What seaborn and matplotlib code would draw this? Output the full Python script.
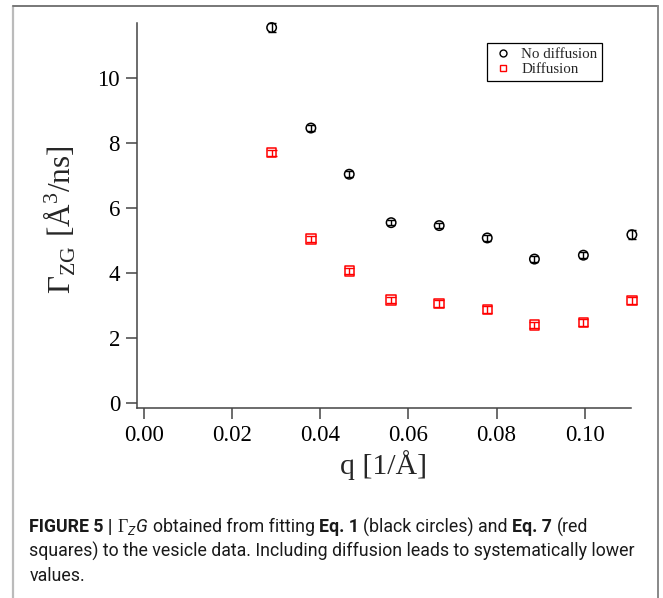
import matplotlib
matplotlib.use("Agg")
import matplotlib.pyplot as plt
import seaborn as sns
from matplotlib.lines import Line2D

# ---- data ----
q = [0.0290, 0.0379, 0.0466, 0.0561, 0.0670, 0.0779, 0.0886, 0.0997, 0.1107]
gamma_nodiff = [11.54, 8.45, 7.03, 5.54, 5.45, 5.07, 4.42, 4.54, 5.17]
err_nodiff = [0.13, 0.10, 0.10, 0.08, 0.08, 0.09, 0.09, 0.09, 0.14]
gamma_diff = [7.69, 5.04, 4.06, 3.16, 3.06, 2.87, 2.39, 2.47, 3.15]
err_diff = [0.10, 0.10, 0.10, 0.10, 0.10, 0.10, 0.10, 0.10, 0.10]
series_labels = ["No diffusion", "Diffusion"]
xticks = [0.00, 0.02, 0.04, 0.06, 0.08, 0.10]
xticklabels = ["0.00", "0.02", "0.04", "0.06", "0.08", "0.10"]
yticks = [0, 2, 4, 6, 8, 10]
xlabel = "q [1/Å]"
ylabel = r"$\Gamma_{\mathrm{ZG}}\ [\mathrm{Å}^{3}/\mathrm{ns}]$"

sns.set_theme(style="ticks")
plt.rcParams['font.family'] = ['Liberation Serif', 'DejaVu Serif']
plt.rcParams['mathtext.fontset'] = 'custom'
plt.rcParams['mathtext.rm'] = 'Liberation Serif'
plt.rcParams['mathtext.it'] = 'Roboto:italic'
plt.rcParams['mathtext.bf'] = 'Liberation Serif:bold'

W, H = 663, 598
fig = plt.figure(figsize=(W / 100, H / 100), dpi=100)
fig.patch.set_facecolor('white')

ax_l, ax_r, ax_t, ax_b = 136.7, 631.0, 22.7, 408.0
ax = fig.add_axes([ax_l / W, 1 - ax_b / H, (ax_r - ax_l) / W, (ax_b - ax_t) / H])
ax.set_facecolor('white')

# error bars
ax.errorbar(q, gamma_nodiff, yerr=err_nodiff, fmt='none', ecolor='black',
            elinewidth=1.0, capsize=3.2, capthick=1.0, clip_on=False, zorder=2)
ax.errorbar(q, gamma_diff, yerr=err_diff, fmt='none', ecolor='red',
            elinewidth=1.0, capsize=3.4, capthick=1.0, clip_on=False, zorder=2)

# markers
sns.scatterplot(x=q, y=gamma_nodiff, marker='o', s=6.8 ** 2, facecolors='none',
                edgecolor='black', linewidth=1.1, ax=ax, clip_on=False, zorder=3)
sns.scatterplot(x=q, y=gamma_diff, marker='s', s=6.8 ** 2, facecolors='none',
                edgecolor='red', linewidth=1.1, ax=ax, clip_on=False, zorder=3)

ax.set_xlim(-0.0016, 0.1105)
ax.set_ylim(-0.16, 11.69)
ax.set_xticks(xticks)
ax.set_xticklabels(xticklabels)
ax.set_yticks(yticks)

for s in ['top', 'right']:
    ax.spines[s].set_visible(False)
for s in ['left', 'bottom']:
    ax.spines[s].set_color('#444444')
    ax.spines[s].set_linewidth(1.1)
ax.tick_params(axis='both', direction='out', length=8, width=1.1, color='#444444',
               labelcolor='black', labelsize=16.5)
ax.tick_params(axis='y', pad=4)
ax.tick_params(axis='x', pad=4)

ax.set_xlabel(xlabel, fontsize=21.5, labelpad=3)
ax.set_ylabel(ylabel, fontsize=22.5)
ax.yaxis.set_label_coords((78 - ax_l) / (ax_r - ax_l), 0.49)

# legend
handles = [
    Line2D([], [], marker='o', linestyle='none', markerfacecolor='none',
           markeredgecolor='black', markersize=5, markeredgewidth=1.0),
    Line2D([], [], marker='s', linestyle='none', markerfacecolor='none',
           markeredgecolor='red', markersize=5, markeredgewidth=1.0),
]
leg = ax.legend(handles, series_labels, loc='upper right',
                bbox_to_anchor=(602 / W, 1 - 43 / H), bbox_transform=fig.transFigure,
                fontsize=10.8, frameon=True, fancybox=False, framealpha=1,
                edgecolor='black', borderpad=0.3, handletextpad=0.5,
                handlelength=1.5, labelspacing=0.1, borderaxespad=0)
leg.get_frame().set_linewidth(0.9)

# figure frame
fig.add_artist(Line2D([13.3 / W, 13.3 / W], [0, 1 - 6 / H], transform=fig.transFigure,
                      color='#bbbbbb', lw=1.6))
fig.add_artist(Line2D([13.3 / W, 658.3 / W], [1 - 6 / H, 1 - 6 / H], transform=fig.transFigure,
                      color='#777777', lw=1.4))
fig.add_artist(Line2D([658.3 / W, 658.3 / W], [0, 1 - 6 / H], transform=fig.transFigure,
                      color='#888888', lw=1.4))

# caption
cap_font = ['Roboto', 'DejaVu Sans']
renderer = fig.canvas.get_renderer()


def text_width(s, size, weight='normal'):
    t = fig.text(0, 0, s, fontsize=size, family=cap_font, fontweight=weight)
    w = t.get_window_extent(renderer).width
    t.remove()
    return w


line2 = "squares) to the vesicle data. Including diffusion leads to systematically lower"
base = 12.0
cap_size = base * (631.7 - 29.3) / text_width(line2, base)
space_w = text_width("x x", cap_size) - text_width("xx", cap_size)

lines = [
    [("FIGURE 5 |", 'bold'), (r"$\Gamma_{Z}G$", 'normal'), ("obtained from fitting", 'normal'),
     ("Eq. 1", 'bold'), ("(black circles) and", 'normal'), ("Eq. 7", 'bold'), ("(red", 'normal')],
    [(line2, 'normal')],
    [("values.", 'normal')],
]
baselines = [532.3, 556.7, 581.0]
for pieces, yb in zip(lines, baselines):
    x = 29.3
    for txt, wt in pieces:
        t = fig.text(x / W, 1 - yb / H, txt, fontsize=cap_size, family=cap_font,
                     fontweight=wt, va='baseline', ha='left', color='#1a1a1a')
        x += t.get_window_extent(renderer).width + space_w

fig.savefig("out.png", dpi=100, facecolor='white')
